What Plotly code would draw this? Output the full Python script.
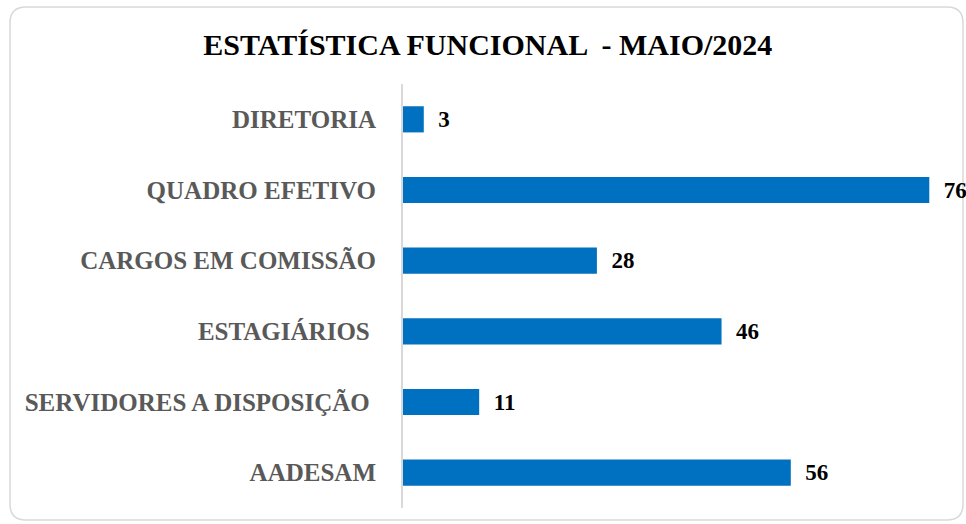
import plotly.graph_objects as go

# dados de maio/2024
categorias = ["DIRETORIA", "QUADRO EFETIVO", "CARGOS EM COMISSÃO", "ESTAGIÁRIOS ",
              "SERVIDORES A DISPOSIÇÃO ", "AADESAM"]
valores = [3, 76, 28, 46, 11, 56]

W, H = 966, 524
ml, mr, mt, mb = 403, 9, 84, 16
pw, ph = W - ml - mr, H - mt - mb


def px_to_paper(x, y):
    return (x - ml) / pw, (H - mb - y) / ph


# moldura arredondada em volta do gráfico
x0, y0, x1, y1, r = 10, 7, 963, 520, 16
pts = [
    ("M", (x0 + r, y0)), ("L", (x1 - r, y0)), ("Q", (x1, y0), (x1, y0 + r)),
    ("L", (x1, y1 - r)), ("Q", (x1, y1), (x1 - r, y1)), ("L", (x0 + r, y1)),
    ("Q", (x0, y1), (x0, y1 - r)), ("L", (x0, y0 + r)), ("Q", (x0, y0), (x0 + r, y0)),
]
path = ""
for p in pts:
    cmd, coords = p[0], p[1:]
    path += cmd + " " + " ".join("%.5f,%.5f" % px_to_paper(*c) for c in coords) + " "
path += "Z"

fig = go.Figure(go.Bar(
    x=valores, y=categorias, orientation="h",
    marker=dict(color="#0070C0", line=dict(width=0)),
    width=0.37,
    text=valores, texttemplate="  %{x}", textposition="outside",
    textfont=dict(family="Liberation Serif", size=23, color="black", weight="bold"),
    cliponaxis=False,
))

fig.update_layout(
    width=W, height=H,
    margin=dict(l=ml, r=mr, t=mt, b=mb),
    plot_bgcolor="white", paper_bgcolor="white",
    title=dict(text="ESTATÍSTICA FUNCIONAL  - MAIO/2024", x=0.505, xanchor="center",
               y=1 - 44 / H, yanchor="middle",
               font=dict(family="Liberation Serif", size=30, color="black", weight="bold")),
    showlegend=False,
    shapes=[dict(type="path", path=path, xref="paper", yref="paper",
                 line=dict(color="#d9d9d9", width=1.5), layer="below")],
)
fig.update_xaxes(range=[0, 80], visible=False)
fig.update_yaxes(autorange="reversed", showline=True, linecolor="#d9d9d9", linewidth=2,
                 showgrid=False, ticks="", ticklabelstandoff=20,
                 tickfont=dict(family="Liberation Serif", size=25, color="#595959", weight="bold"))

fig.write_html("out.html", config={"displayModeBar": False},
               post_script="document.body.style.margin='0';")
